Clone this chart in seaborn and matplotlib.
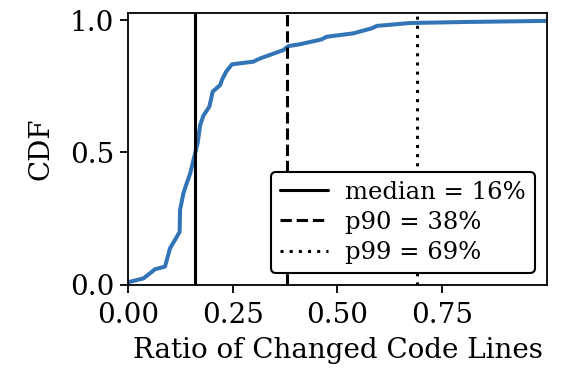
import matplotlib
matplotlib.use("Agg")
import matplotlib.pyplot as plt
import seaborn as sns
import pandas as pd

ratio = [0.0, 0.005, 0.037, 0.057, 0.064, 0.088, 0.100, 0.112, 0.123, 0.124, 0.132, 0.140,
         0.148, 0.158, 0.166, 0.172, 0.180, 0.194, 0.202, 0.220, 0.224, 0.234, 0.248,
         0.299, 0.315, 0.371, 0.383, 0.411, 0.462, 0.474, 0.538, 0.582, 0.594, 0.673,
         0.809, 1.0]
cdf = [0.01, 0.012, 0.025, 0.05, 0.059, 0.069, 0.138, 0.17, 0.20, 0.283, 0.346, 0.384,
       0.42, 0.484, 0.535, 0.604, 0.64, 0.673, 0.73, 0.755, 0.774, 0.805, 0.833,
       0.843, 0.855, 0.887, 0.902, 0.909, 0.927, 0.937, 0.95, 0.969, 0.978, 0.989,
       0.993, 0.997]

stat_values = [0.16, 0.38, 0.69]
stat_labels = ["median = 16%", "p90 = 38%", "p99 = 69%"]
stat_styles = ["-", "--", (0, (1, 2))]

sns.set_style("ticks")
plt.rcParams["font.family"] = ["DejaVu Serif"]
plt.rcParams["font.size"] = 20
plt.rcParams["text.color"] = "black"
plt.rcParams["axes.labelcolor"] = "black"
plt.rcParams["xtick.color"] = "black"
plt.rcParams["ytick.color"] = "black"

fig = plt.figure(figsize=(5.72, 3.70), dpi=100)
ax = fig.add_axes([0.224, 0.23, 0.732, 0.735])

df = pd.DataFrame({"ratio": ratio, "cdf": cdf})
sns.lineplot(data=df, x="ratio", y="cdf", ax=ax, color="#3274b5", linewidth=2.9)

for v, lab, ls in zip(stat_values, stat_labels, stat_styles):
    ax.axvline(v, color="black", linestyle=ls, linewidth=2.2, label=lab)

ax.set_xlim(0, 1)
ax.set_ylim(0, 1.027)
ax.set_xticks([0.0, 0.25, 0.5, 0.75])
ax.set_xticklabels(["0.00", "0.25", "0.50", "0.75"])
ax.set_yticks([0.0, 0.5, 1.0])
ax.set_yticklabels(["0.0", "0.5", "1.0"])
ax.set_xlabel("Ratio of Changed Code Lines", fontsize=20, labelpad=6, color="black")
ax.set_ylabel("CDF", fontsize=20, labelpad=11, color="black")
for s in ax.spines.values():
    s.set_color("black")
    s.set_linewidth(1.3)
ax.tick_params(axis="x", colors="black", width=1.3, length=6, labelsize=20, pad=6)
ax.tick_params(axis="y", colors="black", width=1.3, length=6, labelsize=20, pad=4)

leg = ax.legend(loc="lower right", frameon=True, fancybox=True, fontsize=17.5,
                handlelength=2.0, borderpad=0.35, labelspacing=0.3, handletextpad=0.7,
                borderaxespad=0.5)
leg.get_frame().set_edgecolor("black")
leg.get_frame().set_linewidth(1.5)
leg.get_frame().set_alpha(1)

fig.savefig("out.png", dpi=100)
